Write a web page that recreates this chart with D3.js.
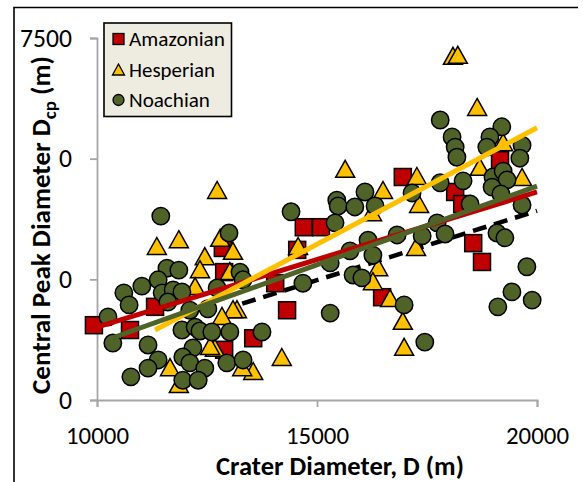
<!DOCTYPE html>
<html><head><meta charset="utf-8">
<script src="https://cdn.jsdelivr.net/npm/d3@7"></script>
<style>html,body{margin:0;padding:0;background:#fff;}svg{display:block;}</style>
</head><body>
<svg id="chart" width="583" height="482"></svg>
<script>
// ---- data ----
const amazonianD   = [9930,10750,11320,12860,12890,12890,13550,14050,14320,14550,14700,15090,16480,16950,18140,18300,18550,18750,19160];
const amazonianDcp = [1550,1450,1930,3150,2650,1040,1280,2420,1860,3110,3580,3580,2130,4620,4310,4060,3250,2860,4970];

const hesperianD   = [18090,18200,18640,19230,18700,19660,17270,15640,16500,17320,17250,16390,16270,16660,16950,16980,14570,13180,14200,13550,13300,12730,11360,11860,12800,13090,12450,12340,12230,13020,13090,12840,12680,12570,11660,11860,16250];
const hesperianDcp = [7110,7130,6050,5320,4810,4600,4620,4770,4330,4040,3150,2730,2440,2090,1620,1080,3170,1860,870,580,660,4330,3170,3310,3340,3070,2960,2690,2340,2650,1860,1720,1060,1100,660,310,3870];

const noachianD   = [11450,13000,11590,11860,11390,11020,10610,10730,11480,11730,11930,11610,10250,10360,11160,11390,11160,10770,12110,12520,12730,11930,12230,12340,12610,13020,12180,11950,12110,12450,11950,12300,12950,13320,13250,13320,13750,14680,14410,15300,15300,15450,15480,15410,15860,16090,16320,16160,15750,16270,15820,16020,17800,18070,18140,18180,19200,18930,18860,19660,19610,18320,19000,19230,19320,18980,19180,19660,18480,17800,17160,17730,17910,17390,16820,19090,19270,19770,19430,19110,19890,16980,17450];
const noachianDcp = [3810,3460,2730,2690,2490,2360,2220,1970,2220,2280,2240,2030,1720,1180,1140,830,660,480,1860,1890,2320,1450,1510,1430,1410,1410,1080,890,770,660,410,410,770,830,2650,2490,1410,2420,3900,2840,1800,4140,4020,3670,4000,4310,4020,3310,3090,3000,2590,2530,5800,5450,5240,5030,5660,5450,5240,5280,5010,4540,4620,4740,4560,4410,4270,4040,4060,4500,4290,3670,3440,3400,3420,3460,3360,2760,2240,1930,2070,1970,1200];

// trend lines (end points)
const trendAmazonianD = [10000,20000], trendAmazonianDcp = [1510,4310];
const trendHesperianD = [11320,20000], trendHesperianDcp = [1450,5640];
const trendNoachianD  = [10360,20000], trendNoachianDcp  = [1290,4430];
const refLineD = [13300,20000], refLineDcp = [1995,3920];

const xTickValues = [10000,15000,20000];
const xTickLabels = ["10000","15000","20000"];
const yTickValues = [0,2500,5000,7500];
const yTickLabels = ["0","0","0","7500"];
const seriesNames = ["Amazonian","Hesperian","Noachian"];

// ---- drawing ----
const FONT = "Carlito, Calibri, Lato, 'Open Sans', sans-serif";
const svg = d3.select("#chart");
const x = d3.scaleLinear().domain([10000,20000]).range([97,537]);
const y = d3.scaleLinear().domain([0,7500]).range([400,38]);

function fit(node, target){
  const w = node.getBBox().width;
  const fs = parseFloat(node.getAttribute("font-size"));
  if (w>0) node.setAttribute("font-size", (fs*target/w).toFixed(2));
}

// frame
svg.append("path").attr("d","M14,482V7.5H578").attr("fill","none").attr("stroke","#000").attr("stroke-width",1.6);

// axes
const gy = svg.append("g").attr("transform","translate(97,0)")
  .call(d3.axisLeft(y).tickValues(yTickValues).tickSize(7).tickSizeOuter(7).tickPadding(18)
        .tickFormat((d,i)=>yTickLabels[i]));
const gx = svg.append("g").attr("transform","translate(0,400)")
  .call(d3.axisBottom(x).tickValues(xTickValues).tickSize(7).tickSizeOuter(7).tickPadding(19)
        .tickFormat((d,i)=>xTickLabels[i]));
[gx,gy].forEach(g=>{
  g.selectAll("path,line").attr("stroke","#a6a6a6").attr("stroke-width",1.8);
  g.selectAll("text").attr("font-family",FONT).attr("font-size",22).attr("fill","#000");
});
gy.selectAll("text").each(function(d,i){ fit(this, yTickLabels[i].length*13); });
gx.selectAll("text").each(function(){ fit(this, 63); });

// reference dashed line (beneath markers)
const line = d3.line().x(d=>x(d[0])).y(d=>y(d[1]));
svg.append("path").datum(d3.zip(refLineD, refLineDcp)).attr("d",line)
  .attr("fill","none").attr("stroke","#000").attr("stroke-width",4.5).attr("stroke-dasharray","14,8");

const plot = svg.append("g");
const triPath = "M0,-9.5L9.5,7.5L-9.5,7.5Z";
// Amazonian squares
plot.selectAll(".am").data(d3.zip(amazonianD, amazonianDcp)).join("rect")
  .attr("x",d=>x(d[0])-8.5).attr("y",d=>y(d[1])-8.5).attr("width",17).attr("height",17)
  .attr("fill","#C00000").attr("stroke","#000").attr("stroke-width",1.5);
// Hesperian triangles
plot.selectAll(".he").data(d3.zip(hesperianD, hesperianDcp)).join("path")
  .attr("d",triPath).attr("transform",d=>`translate(${x(d[0])},${y(d[1])})`)
  .attr("fill","#FFC000").attr("stroke","#000").attr("stroke-width",1.5).attr("stroke-linejoin","miter");
// Noachian circles
plot.selectAll(".no").data(d3.zip(noachianD, noachianDcp)).join("circle")
  .attr("cx",d=>x(d[0])).attr("cy",d=>y(d[1])).attr("r",8.7)
  .attr("fill","#4F6228").attr("stroke","#000").attr("stroke-width",1.5);

// trend lines on top
[[trendAmazonianD,trendAmazonianDcp,"#C00000"],
 [trendHesperianD,trendHesperianDcp,"#FFC000"],
 [trendNoachianD,trendNoachianDcp,"#4F6228"]].forEach(([xs,ys,c])=>{
  svg.append("path").datum(d3.zip(xs,ys)).attr("d",line)
    .attr("fill","none").attr("stroke",c).attr("stroke-width",5);
});

// axis titles
const xt = svg.append("text").attr("x",340).attr("y",475).attr("text-anchor","middle")
  .attr("font-family",FONT).attr("font-weight","bold").attr("font-size",22).text("Crater Diameter, D (m)");
fit(xt.node(), 248);

const yt = svg.append("text").attr("transform","translate(50,225) rotate(-90)").attr("text-anchor","middle")
  .attr("font-family",FONT).attr("font-weight","bold").attr("font-size",23);
yt.append("tspan").text("Central Peak Diameter D");
yt.append("tspan").attr("font-size","0.7em").attr("dy","0.3em").text("cp");
yt.append("tspan").attr("dy","-0.21em").text(" (m)");
fit(yt.node(), 338);

// legend
const lg = svg.append("g");
lg.append("rect").attr("x",104).attr("y",23).attr("width",127.5).attr("height",93.5)
  .attr("fill","#EEECE1").attr("stroke","#000").attr("stroke-width",1.6);
const legY = [39,70,100], legW = [96,86,81];
seriesNames.forEach((name,i)=>{
  const cy = legY[i];
  if (i===0) lg.append("rect").attr("x",113).attr("y",cy-5.5).attr("width",11).attr("height",11)
      .attr("fill","#C00000").attr("stroke","#000").attr("stroke-width",1.3);
  if (i===1) lg.append("path").attr("d","M0,-6L6,5L-6,5Z").attr("transform",`translate(118.5,${cy})`)
      .attr("fill","#FFC000").attr("stroke","#000").attr("stroke-width",1.3);
  if (i===2) lg.append("circle").attr("cx",118.5).attr("cy",cy).attr("r",5.5)
      .attr("fill","#4F6228").attr("stroke","#000").attr("stroke-width",1.3);
  const t = lg.append("text").attr("x",129).attr("y",cy+7).attr("font-family",FONT)
    .attr("font-size",20).attr("fill","#000").text(name);
  fit(t.node(), legW[i]);
});
</script>
</body></html>
